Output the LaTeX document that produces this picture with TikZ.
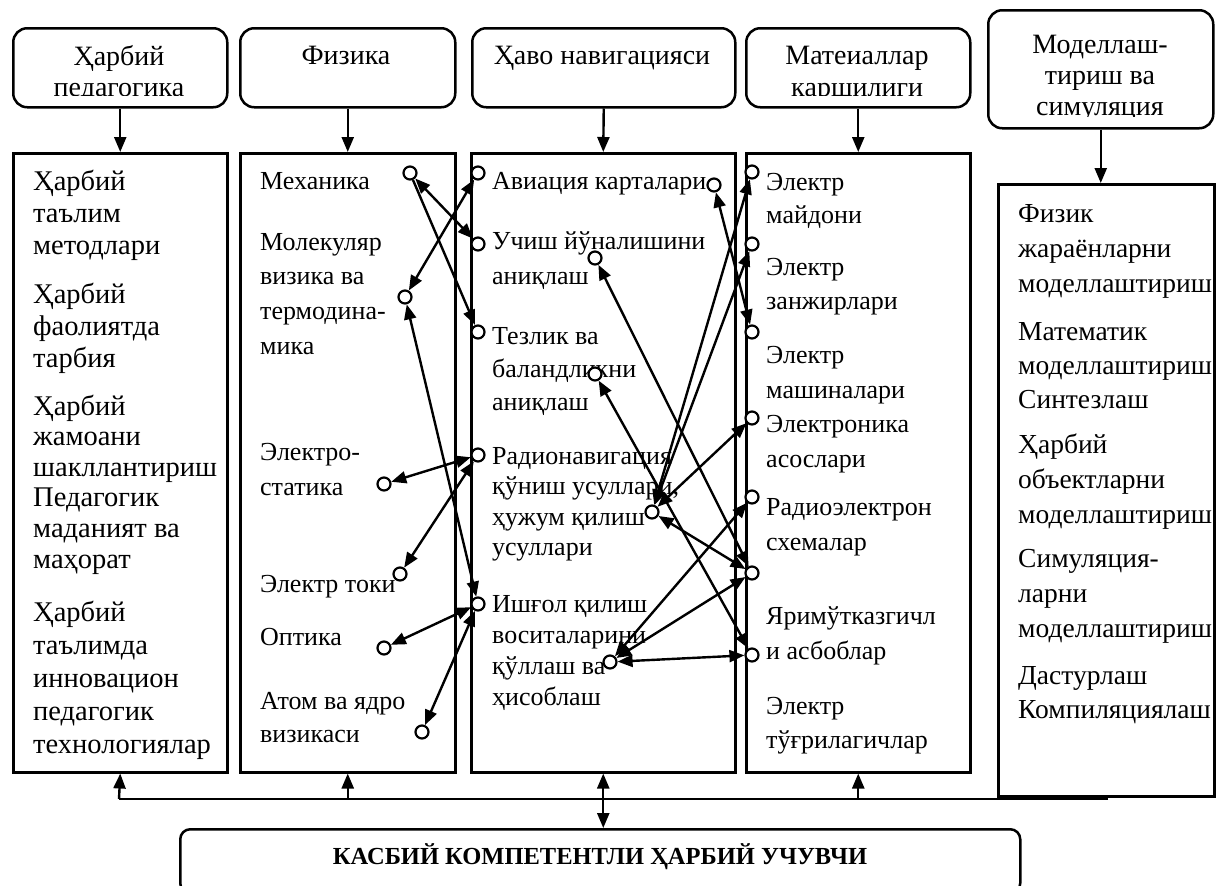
\documentclass[tikz,border=0pt]{standalone}
\usepackage{fontspec}
\setmainfont{Liberation Serif}
\usetikzlibrary{arrows.meta}
\newcommand\plines[5][]{\foreach \myl [count=\i from 0] in {#5} {\node[txt,#1] at (#2,{#3+\i*#4}) {\myl};}}
\tikzset{
 hdr/.style={draw, line width=2.5pt, rounded corners=14pt, anchor=north west, inner sep=0pt},
 lbox/.style={draw, line width=2.5pt, anchor=north west, inner sep=0pt},
 txt/.style={anchor=base west, inner sep=0pt, font=\fontsize{26}{31}\selectfont},
 big/.style={font=\fontsize{28.5}{31}\selectfont},
 mid/.style={font=\fontsize{27.5}{31}\selectfont},
 ctr/.style={anchor=base, inner sep=0pt, font=\fontsize{28}{31}\selectfont},
 dot/.style={circle, draw, fill=white, line width=2.2pt, minimum size=13pt, inner sep=0pt},
 tip/.tip={Triangle[length=15pt,width=12pt]},
 conn/.style={line width=2.4pt, tip-tip},
 conn1/.style={line width=2.4pt, -tip},
}
\begin{document}
\begin{tikzpicture}[x=1pt,y=-1pt]
\useasboundingbox (0,0) rectangle (1216,886);
% header boxes
\node[hdr, minimum width=214pt, minimum height=79pt] (h1) at (12,27) {};
\node[hdr, minimum width=215pt, minimum height=79pt] (h2) at (239,27) {};
\node[hdr, minimum width=263pt, minimum height=79pt] (h3) at (471,27) {};
\node[hdr, minimum width=224pt, minimum height=79pt] (h4) at (745,27) {};
\node[hdr, minimum width=225pt, minimum height=118pt] (h5) at (987,9) {};
\begin{scope}
\clip (12,27) rectangle (226,95);
\node[ctr] (h1a) at (119,65) {Ҳарбий};
\node[ctr] (h1b) at (119,96) {педагогика};
\end{scope}
\node[ctr] (h2a) at (346,64) {Физика};
\node[ctr] (h3a) at (602,64) {Ҳаво навигацияси};
\begin{scope}
\clip (745,27) rectangle (969,95);
\node[ctr] (h4a) at (857,64) {Матеиаллар};
\node[ctr] (h4b) at (857,96) {қаршилиги};
\end{scope}
\begin{scope}
\clip (987,9) rectangle (1212,116);
\node[ctr] (h5a) at (1100,53) {Моделлаш-};
\node[ctr] (h5b) at (1100,84) {тириш ва};
\node[ctr] (h5c) at (1100,115) {симуляция};
\end{scope}
% lower boxes
\node[lbox, minimum width=214pt, minimum height=619pt] (b1) at (12,152) {};
\node[lbox, minimum width=215pt, minimum height=619pt] (b2) at (239,152) {};
\node[lbox, minimum width=264pt, minimum height=619pt] (b3) at (470,152) {};
\node[lbox, minimum width=224pt, minimum height=619pt] (b4) at (745,152) {};
\node[lbox, minimum width=216pt, minimum height=612pt] (b5) at (997,183) {};
% header arrows
\draw[conn1] (h1.south) -- (b1.north);
\draw[conn1] (h2.south) -- (b2.north);
\draw[conn1] (h3.south) -- (b3.north);
\draw[conn1] (h4.south) -- (b4.north);
\draw[conn1] (h5.south) -- (h5.south |- b5.north);
% texts box 1
\plines[big]{33}{190}{32}{Ҳарбий,таълим,методлари}
\plines[big]{33}{303}{32}{Ҳарбий,фаолиятда,тарбия}
\plines[big]{33}{415}{30.6}{Ҳарбий,жамоани,шакллантириш,Педагогик,маданият ва,маҳорат}
\plines[big]{33}{621}{33}{Ҳарбий,таълимда,инновацион,педагогик,технологиялар}
% box 2
\plines{260}{189}{34}{Механика}
\plines{260}{250}{34.7}{Молекуляр,визика ва,термодина-,мика}
\plines{260}{460}{35}{Электро-,статика}
\plines{260}{592}{33}{Электр токи}
\plines{260}{645}{33}{Оптика}
\plines{260}{709}{33}{Атом ва ядро,визикаси}
% box 3
\plines{492}{189}{34}{Авиация карталари}
\plines{492}{249}{35}{Учиш йўналишини,аниқлаш}
\plines{492}{344}{33}{Тезлик ва,баландликни,аниқлаш}
\plines{492}{464}{30.5}{Радионавигация,{қўниш усуллари,},ҳужум қилиш,усуллари}
\plines{492}{612}{31}{Ишғол қилиш,воситаларини,қўллаш ва,ҳисоблаш}
% box 4
\plines{766}{190}{33}{Электр,майдони}
\plines{766}{275}{34}{Электр,занжирлари}
\plines{766}{363}{35}{Электр,машиналари}
\plines{766}{432}{35}{Электроника,асослари}
\plines{766}{515}{35}{Радиоэлектрон,схемалар}
\plines{766}{624}{35}{Яримўтказгичл,и асбоблар}
\plines{766}{714}{34}{Электр,тўғрилагичлар}
% box 5
\plines[mid]{1018}{222}{35}{Физик,жараёнларни,моделлаштириш}
\plines[mid]{1018}{340}{34}{Математик,моделлаштириш,Синтезлаш}
\plines[mid]{1018}{453}{35}{Ҳарбий,объектларни,моделлаштириш}
\plines[mid]{1018}{567}{35}{Симуляция-,ларни,моделлаштириш}
\plines[mid]{1018}{684}{34}{Дастурлаш,Компиляциялаш}
% circles
\node[dot] (mech) at (410,173) {};
\node[dot] (mol) at (405,297) {};
\node[dot] (estat) at (384,484) {};
\node[dot] (tok) at (400,574) {};
\node[dot] (opt) at (384,648) {};
\node[dot] (atom) at (422,732) {};
\node[dot] (avia) at (478,173) {};
\node[dot] (uch) at (478,244) {};
\node[dot] (tez) at (478,332) {};
\node[dot] (radio) at (478,455) {};
\node[dot] (ish) at (478,604) {};
\node[dot] (aviar) at (714,185) {};
\node[dot] (uchin) at (595,258) {};
\node[dot] (tezin) at (595,374) {};
\node[dot] (radioin) at (652,512) {};
\node[dot] (ishin) at (610,662) {};
\node[dot] (emay) at (752,172) {};
\node[dot] (ezan) at (752,244) {};
\node[dot] (emash) at (752,332) {};
\node[dot] (eel) at (752,418) {};
\node[dot] (rad) at (752,497) {};
\node[dot] (cunk) at (752,573) {};
\node[dot] (yarim) at (752,655) {};
% connectors
\draw[conn] (mech) -- (uch);
\draw[conn1] (mech) -- (tez);
\draw[conn] (avia) -- (mol);
\draw[conn] (mol) -- (ish);
\draw[conn] (estat) -- (radio);
\draw[conn] (tok) -- (radio);
\draw[conn] (opt) -- (ish);
\draw[conn] (atom) -- (ish);
\draw[conn] (aviar) -- (emash);
\draw[conn] (uchin) -- (cunk);
\draw[conn] (tezin) -- (yarim);
\draw[conn] (emay) -- (radioin);
\draw[conn] (ezan) -- (radioin);
\draw[conn] (eel) -- (radioin);
\draw[conn] (radioin) -- (cunk);
\draw[conn] (cunk) -- (ishin);
\draw[conn] (rad) -- (ishin);
\draw[conn] (ishin) -- (yarim);
% bottom bus
\coordinate (busL) at (119,799);
\coordinate (busR) at (1108,799);
\draw[line width=2.4pt] (busL) -- (busR);
\draw[conn1] (busL) -- (b1.south);
\draw[conn1] (b2.south |- busL) -- (b2.south);
\draw[conn1] (b4.south |- busL) -- (b4.south);
\node[hdr, rounded corners=10pt, minimum width=840pt, minimum height=64pt] (fin) at (179,828) {};
\draw[conn] (b3.south) -- (b3.south |- fin.north);
\node[inner sep=0pt, font=\bfseries\fontsize{24.5}{28}\selectfont] (fint) at (600,857) {КАСБИЙ КОМПЕТЕНТЛИ ҲАРБИЙ УЧУВЧИ};
\end{tikzpicture}
\end{document}
